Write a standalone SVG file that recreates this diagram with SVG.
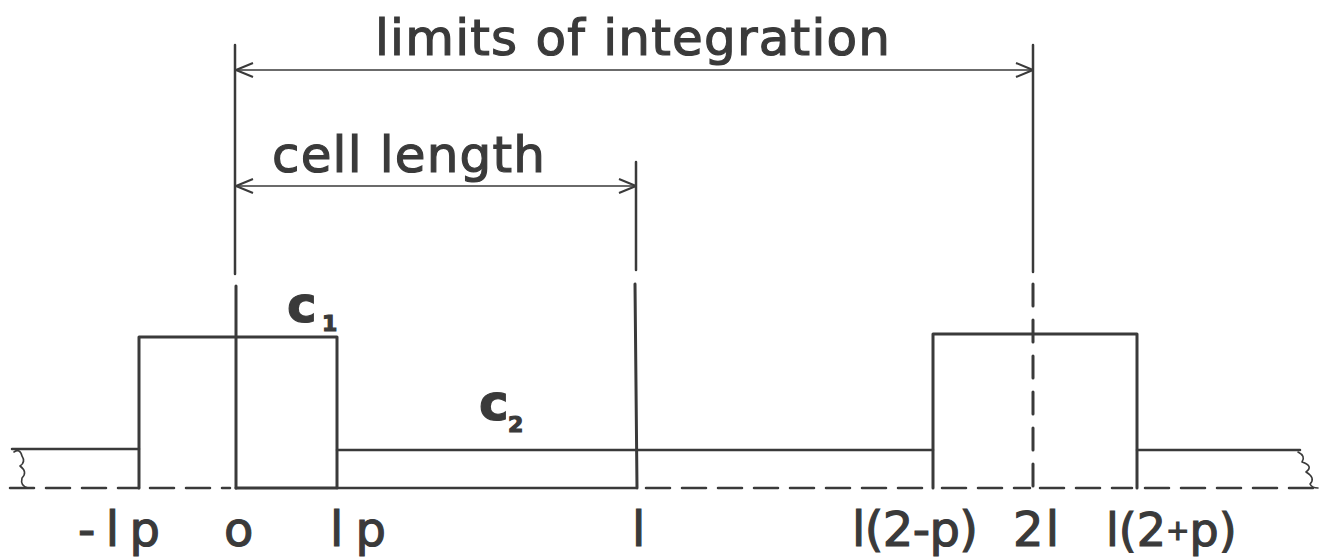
<svg xmlns="http://www.w3.org/2000/svg" width="1330" height="557" viewBox="0 0 1330 557">
<defs>
<style>
.ln{stroke:#3a3a3a;fill:none;stroke-linecap:round;stroke-linejoin:round}
.thick{stroke-width:3}
.med{stroke-width:2.5}
.thin{stroke-width:1.6}
.dash{stroke-dasharray:24 12}
.lbl{font-family:"DejaVu Sans",sans-serif;fill:#3a3a3a;stroke:#3a3a3a;stroke-width:1.2}
</style>
<marker id="ah" viewBox="0 0 20 16" refX="19" refY="8" markerWidth="20" markerHeight="16" markerUnits="userSpaceOnUse" orient="auto-start-reverse">
<path d="M2,1 L19,8 L2,15" fill="none" stroke="#3a3a3a" stroke-width="2"/>
</marker>
</defs>
<rect width="1330" height="557" fill="#ffffff"/>

<g id="connectors">
<line class="ln thin" x1="236" y1="70" x2="1033" y2="70" marker-start="url(#ah)" marker-end="url(#ah)"/>
<line class="ln thin" x1="236" y1="186" x2="636" y2="186" marker-start="url(#ah)" marker-end="url(#ah)"/>
</g>

<g id="axis-x0">
<line class="ln med" x1="235" y1="45" x2="235" y2="274"/>
<line class="ln thick" x1="236" y1="286" x2="236" y2="488"/>
</g>

<g id="axis-l">
<line class="ln med" x1="636" y1="162" x2="636" y2="270"/>
<line class="ln thick" x1="635" y1="284" x2="637" y2="488"/>
</g>

<g id="axis-2l">
<line class="ln med" x1="1033" y1="45" x2="1033" y2="272"/>
<line class="ln thick" x1="1033" y1="284" x2="1033" y2="488" stroke-dasharray="22 14"/>
</g>

<g id="profile">
<path class="ln med" d="M12,449 L139,449"/>
<path class="ln thick" d="M139,488 L139,337 L337,337 L337,488 L236,488"/>
<path class="ln med" d="M337,450 L933,450"/>
<path class="ln thick" d="M933,488 L933,334 L1137,334 L1137,488"/>
<path class="ln med" d="M1137,450 L1300,450"/>
<path class="ln med" d="M337,488 L636,488"/>
<path class="ln med dash" d="M10,488 L139,488"/>
<path class="ln med dash" d="M150,488 L230,488"/>
<path class="ln med dash" d="M646,488 L928,488"/>
<path class="ln med dash" d="M942,488 L1030,488"/>
<path class="ln med dash" d="M1040,488 L1132,488"/>
<path class="ln med dash" d="M1145,488 L1320,488"/>
<path class="ln thin" d="M14,452 Q20,448 22,456 Q26,462 20,466 Q28,472 22,478 Q20,486 28,488"/>
<path class="ln thin" d="M1298,452 Q1306,456 1302,462 Q1314,466 1306,472 Q1316,478 1310,484 Q1312,488 1318,488"/>
</g>

<g id="label-limits">
<text class="lbl" x="375" y="55" font-size="50" textLength="515" lengthAdjust="spacing">limits of integration</text>
</g>
<g id="label-cell">
<text class="lbl" x="272" y="172" font-size="50" textLength="273" lengthAdjust="spacing">cell length</text>
</g>
<g id="label-c1">
<text class="lbl" x="287" y="322" font-size="50" font-weight="bold">c</text>
<text class="lbl" x="322" y="331" font-size="22" font-weight="bold">1</text>
</g>
<g id="label-c2">
<text class="lbl" x="479" y="420" font-size="50" font-weight="bold">c</text>
<text class="lbl" x="508" y="432" font-size="22" font-weight="bold">2</text>
</g>

<g id="ticks">
<text class="lbl" x="78" y="546" font-size="48" textLength="82" lengthAdjust="spacing">-lp</text>
<text class="lbl" x="224" y="546" font-size="48">o</text>
<text class="lbl" x="330" y="546" font-size="48" textLength="56" lengthAdjust="spacing">lp</text>
<text class="lbl" x="632" y="546" font-size="48">l</text>
<text class="lbl" x="852" y="546" font-size="48" textLength="126" lengthAdjust="spacing">l(2-p)</text>
<text class="lbl" x="1013" y="546" font-size="48" textLength="46" lengthAdjust="spacing">2l</text>
<text class="lbl" x="1106" y="546" font-size="46">l(2<tspan font-size="28" dy="-6">+</tspan><tspan dy="6">p)</tspan></text>
</g>
</svg>
